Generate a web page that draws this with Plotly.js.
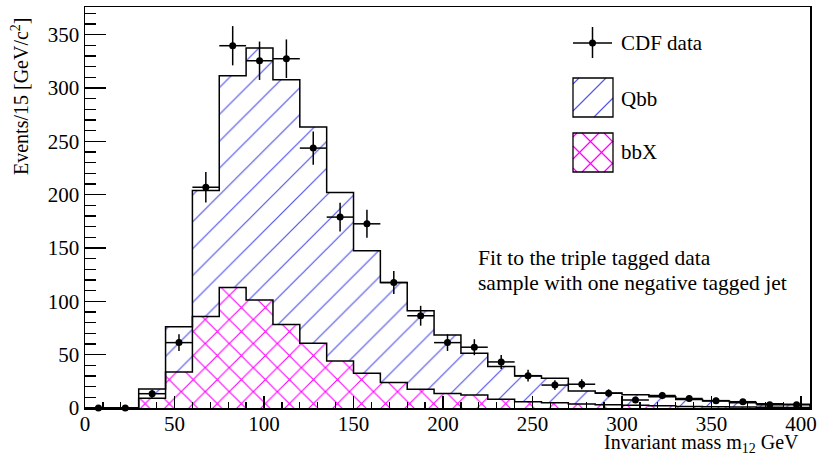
<!DOCTYPE html>
<html>
<head>
<meta charset="utf-8">
<script src="https://cdn.plot.ly/plotly-3.0.1.min.js"></script>
<style>
  html, body { margin: 0; padding: 0; background: #ffffff; }
  #chart { width: 819px; height: 455px; }
</style>
</head>
<body>
<div id="chart"></div>
<script>
// ---------- data ----------
const binWidth = 15;
const binCenters = [7.5, 22.5, 37.5, 52.5, 67.5, 82.5, 97.5, 112.5, 127.5, 142.5,
  157.5, 172.5, 187.5, 202.5, 217.5, 232.5, 247.5, 262.5, 277.5, 292.5,
  307.5, 322.5, 337.5, 352.5, 367.5, 382.5, 397.5];
// bbX component (bottom of the stack)
const bbX = [0, 0, 9.1, 33.8, 85.7, 112.9, 101.3, 78.2, 60.7, 44.0,
  32.5, 23.8, 17.5, 13.5, 12.2, 8.1, 5.9, 5.0, 3.8, 3.0,
  2.5, 2.0, 1.5, 1.2, 1.0, 0.8, 0.5];
// Qbb component (stacked on top of bbX)
const qbb = [0, 0, 8.7, 42.5, 118.3, 198.6, 236.2, 229.6, 202.7, 158.0,
  115.0, 93.8, 73.8, 55.0, 39.1, 30.7, 24.1, 23.0, 12.2, 11.0,
  10.0, 8.5, 6.5, 5.3, 4.0, 3.2, 3.0];
// CDF data points and their vertical errors
const cdfData = [0, 0, 13.4, 61.3, 207, 339.7, 325.6, 327.5, 243.7, 179,
  172.7, 117.6, 86.5, 61.3, 57, 43.2, 30.3, 21.5, 22.3, 13.8,
  7.5, 11.7, 8.9, 6.9, 5.9, 3.0, 3.0];
const cdfErr = [0, 0, 3.7, 7.8, 14.4, 18.4, 18.0, 18.1, 15.6, 13.4,
  13.1, 10.8, 9.3, 7.8, 7.5, 6.6, 5.5, 4.6, 4.7, 3.7,
  2.7, 3.4, 3.0, 2.6, 2.4, 1.7, 1.7];

const xTitle = 'Invariant mass m<sub>12</sub> GeV';
const yTitle = 'Events/15 [GeV/c<sup>2</sup>]';
const legendNames = ['CDF data', 'Qbb', 'bbX'];
const noteLines = ['Fit to the triple tagged data', 'sample with one negative tagged jet'];

// ---------- derived ----------
const FONT = 'Liberation Serif, Times New Roman, serif';
const total = qbb.map((v, i) => v + bbX[i]);
const edges = binCenters.map(c => c - binWidth / 2);
edges.push(binCenters[binCenters.length - 1] + binWidth / 2);
function stepY(arr) { const a = arr.slice(); a.push(0); return a; }

const QBB_COLOR = '#5252ea';
const BBX_COLOR = '#ff00ff';

const traces = [
  {
    type: 'bar', x: binCenters, y: bbX, width: binWidth, name: 'bbX',
    marker: { color: 'white', line: { width: 0 },
      pattern: { shape: 'x', fgcolor: BBX_COLOR, bgcolor: 'white', size: 17, solidity: 0.13 } },
    showlegend: false, hoverinfo: 'skip'
  },
  {
    type: 'bar', x: binCenters, y: qbb, width: binWidth, name: 'Qbb',
    marker: { color: 'white', line: { width: 0 },
      pattern: { shape: '/', fgcolor: QBB_COLOR, bgcolor: 'white', size: 19, solidity: 0.062 } },
    showlegend: false, hoverinfo: 'skip'
  },
  {
    type: 'scatter', mode: 'lines', x: edges, y: stepY(bbX),
    line: { shape: 'hv', color: 'black', width: 1.5 }, showlegend: false, hoverinfo: 'skip'
  },
  {
    type: 'scatter', mode: 'lines', x: edges, y: stepY(total),
    line: { shape: 'hv', color: 'black', width: 1.5 }, showlegend: false, hoverinfo: 'skip'
  },
  {
    type: 'scatter', mode: 'markers', x: binCenters, y: cdfData, name: 'CDF data',
    marker: { color: 'black', size: 7, symbol: 'circle' },
    error_y: { type: 'data', array: cdfErr, visible: true, color: 'black', thickness: 1.5, width: 0 },
    error_x: { type: 'constant', value: binWidth / 2, visible: true, color: 'black', thickness: 1.5, width: 0 },
    cliponaxis: false, showlegend: false
  }
];

// ---------- manual ROOT-like legend (pixel -> paper helpers) ----------
const L = 85, R = 810, T = 7, B = 408;
const px = v => (v - L) / (R - L);
const py = v => (B - v) / (B - T);
const shapes = [];
function seg(x0, y0, x1, y1, color, w) {
  shapes.push({ type: 'line', xref: 'paper', yref: 'paper', x0: px(x0), y0: py(y0), x1: px(x1), y1: py(y1),
    line: { color: color, width: w } });
}
function hatch(bx0, by0, bx1, by1, spacing, dir, color, w, off) {
  if (dir === '/') {
    for (let c = bx0 + by0 + off; c <= bx1 + by1; c += spacing) {
      const xa = Math.max(bx0, c - by1), xb = Math.min(bx1, c - by0);
      if (xb > xa) seg(xa, c - xa, xb, c - xb, color, w);
    }
  } else {
    for (let c = bx0 - by1 + off; c <= bx1 - by0; c += spacing) {
      const xa = Math.max(bx0, c + by0), xb = Math.min(bx1, c + by1);
      if (xb > xa) seg(xa, xa - c, xb, xb - c, color, w);
    }
  }
}
// CDF data symbol
seg(573, 43, 612, 43, 'black', 1.5);
seg(592.5, 27, 592.5, 58, 'black', 1.5);
shapes.push({ type: 'circle', xref: 'paper', yref: 'paper', x0: px(589), x1: px(596), y0: py(46.5), y1: py(39.5),
  fillcolor: 'black', line: { color: 'black', width: 0 } });
// Qbb box
hatch(573, 78, 613, 117, 27, '/', QBB_COLOR, 1.1, 6);
shapes.push({ type: 'rect', xref: 'paper', yref: 'paper', x0: px(573), x1: px(613), y0: py(117), y1: py(78),
  line: { color: 'black', width: 1.3 } });
// bbX box
hatch(573, 133, 613, 172, 22, '/', BBX_COLOR, 1.2, 4);
hatch(573, 133, 613, 172, 22, '\\', BBX_COLOR, 1.2, 4);
shapes.push({ type: 'rect', xref: 'paper', yref: 'paper', x0: px(573), x1: px(613), y0: py(172), y1: py(133),
  line: { color: 'black', width: 1.3 } });

function txt(t, x, y, size, xa, extra) {
  return Object.assign({ text: t, xref: 'paper', yref: 'paper', x: px(x), y: py(y), xanchor: xa, yanchor: 'middle',
    showarrow: false, font: { family: FONT, size: size, color: 'black' } }, extra || {});
}
const annotations = [
  txt(legendNames[0], 619, 43, 21, 'left'),
  txt(legendNames[1], 619, 99, 21, 'left'),
  txt(legendNames[2], 619, 152, 21, 'left'),
  txt(noteLines[0], 476, 258, 21.5, 'left'),
  txt(noteLines[1], 476, 283, 21.5, 'left'),
  txt(xTitle, 801, 443, 20, 'right'),
  txt(yTitle, 20, 96, 20, 'center', { textangle: -90 })
];

const layout = {
  width: 819, height: 455,
  margin: { l: L, r: 819 - R, t: T, b: 455 - B },
  paper_bgcolor: 'white', plot_bgcolor: 'white',
  barmode: 'stack', bargap: 0,
  showlegend: false,
  font: { family: FONT, size: 21, color: 'black' },
  xaxis: {
    range: [0, 405], dtick: 50, tick0: 0, showgrid: false, zeroline: false,
    showline: true, linecolor: 'black', linewidth: 1.5, mirror: true,
    ticks: 'inside', ticklen: 12, tickwidth: 1.3, tickcolor: 'black', ticklabelstandoff: -4,
    minor: { dtick: 10, ticks: 'inside', ticklen: 6, tickwidth: 1.3, tickcolor: 'black', showgrid: false },
    tickfont: { family: FONT, size: 21, color: 'black' }
  },
  yaxis: {
    range: [0, 376], dtick: 50, tick0: 0, showgrid: false, zeroline: false,
    showline: true, linecolor: 'black', linewidth: 1.5, mirror: true,
    ticks: 'inside', ticklen: 21, tickwidth: 1.3, tickcolor: 'black',
    minor: { dtick: 10, ticks: 'inside', ticklen: 11, tickwidth: 1.3, tickcolor: 'black', showgrid: false },
    tickfont: { family: FONT, size: 21, color: 'black' }
  },
  shapes: shapes,
  annotations: annotations
};

Plotly.newPlot('chart', traces, layout, { staticPlot: true, displayModeBar: false });
</script>
</body>
</html>
